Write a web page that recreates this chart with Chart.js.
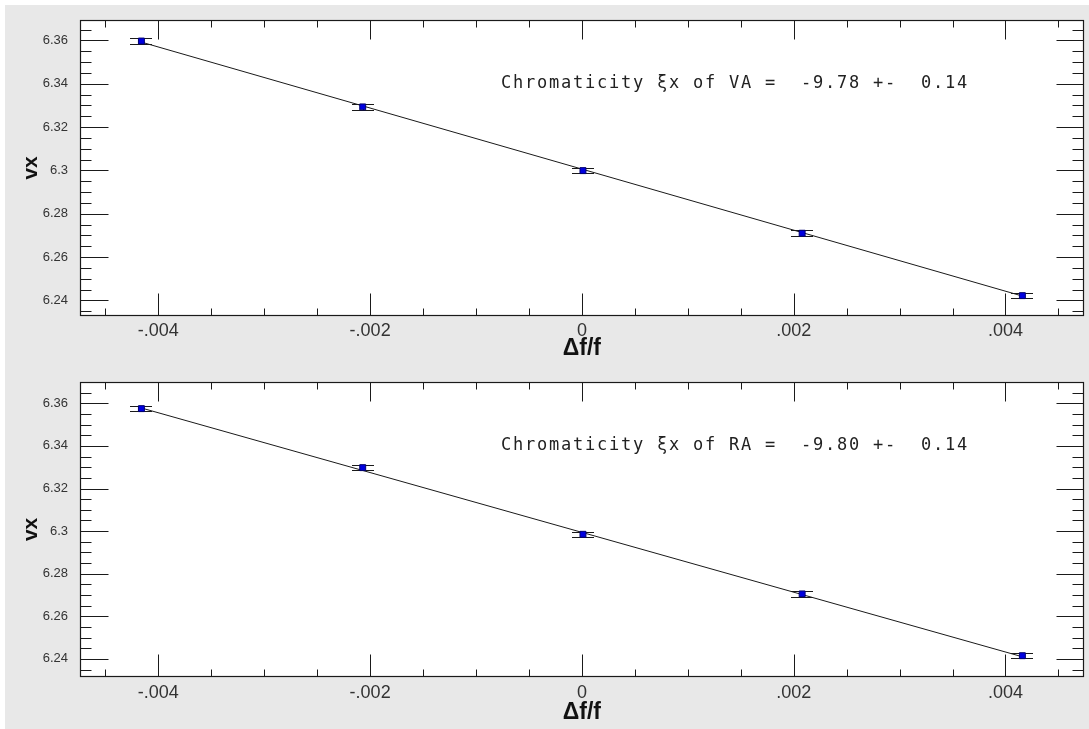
<!DOCTYPE html>
<html><head><meta charset="utf-8">
<script src="https://cdn.jsdelivr.net/npm/chart.js@4/dist/chart.umd.min.js"></script>
<style>
html,body{margin:0;padding:0;background:#fff;width:1089px;height:729px;overflow:hidden}
#bg{position:absolute;left:5px;top:5px;width:1084px;height:724px;background:#e8e8e8}
canvas{position:absolute;left:0}
</style></head><body>
<div id="bg"></div>
<canvas id="c1" width="1089" height="362" style="top:0"></canvas>
<canvas id="c2" width="1089" height="367" style="top:362px"></canvas>
<script>
// ---- data ----
const deltaF = [-0.00416, -0.00207, 0.00001, 0.00208, 0.00416];
const vxVA = [6.3597, 6.3293, 6.2999, 6.2710, 6.2422];
const errVA = [0.0013, 0.0013, 0.0013, 0.0013, 0.0013];
const fitXVA = [-0.00416, 0.00416];
const fitYVA = [6.3592, 6.2420];
const vxRA = [6.3575, 6.3298, 6.2985, 6.2705, 6.2415];
const errRA = [0.0013, 0.0013, 0.0013, 0.0013, 0.0013];
const fitXRA = [-0.00416, 0.00416];
const fitYRA = [6.3578, 6.2410];
const xTickValues = [-0.004, -0.002, 0, 0.002, 0.004];
const xTickLabels = ['-.004', '-.002', '0', '.002', '.004'];
const yTickValues = [6.24, 6.26, 6.28, 6.30, 6.32, 6.34, 6.36];
const yTickLabels = ['6.24', '6.26', '6.28', '6.3', '6.32', '6.34', '6.36'];
const noteVA = 'Chromaticity \u03BEx of VA =  -9.78 +-  0.14';
const noteRA = 'Chromaticity \u03BEx of RA =  -9.80 +-  0.14';
const xTitle = '\u0394f/f';
const yTitle = 'vx';

const INK = '#1a1a1a';

const framePlugin = {
  id: 'frame',
  beforeDraw(chart) {
    const {ctx, chartArea: a} = chart;
    ctx.save();
    ctx.fillStyle = '#ffffff';
    ctx.fillRect(a.left, a.top, a.right - a.left, a.bottom - a.top);
    ctx.restore();
  },
  beforeDatasetsDraw(chart, args, opts) {
    const {ctx} = chart;
    const xs = chart.scales.x, ys = chart.scales.y;
    const ds = chart.data.datasets[1].data;
    ctx.save();
    ctx.strokeStyle = INK;
    ctx.lineWidth = 1;
    ds.forEach((p, i) => {
      const px = xs.getPixelForValue(p.x);
      const yt = Math.round(ys.getPixelForValue(p.y + opts.err[i])) + 0.5;
      const yb = Math.round(ys.getPixelForValue(p.y - opts.err[i])) + 0.5;
      ctx.beginPath();
      ctx.moveTo(Math.round(px) + 0.5, yt); ctx.lineTo(Math.round(px) + 0.5, yb);
      ctx.moveTo(Math.round(px - 11), yt); ctx.lineTo(Math.round(px + 11), yt);
      ctx.moveTo(Math.round(px - 11), yb); ctx.lineTo(Math.round(px + 11), yb);
      ctx.stroke();
    });
    ctx.restore();
  },
  afterDraw(chart, args, opts) {
    const {ctx, chartArea: a} = chart;
    const xs = chart.scales.x, ys = chart.scales.y;
    ctx.save();
    ctx.strokeStyle = INK;
    ctx.lineWidth = 1;
    const L = Math.round(a.left) + 0.5, R = Math.round(a.right) - 0.5;
    const T = Math.round(a.top) + 0.5, B = Math.round(a.bottom) - 0.5;
    ctx.beginPath();
    // x ticks (bottom and top, inward)
    const xStep = 0.0005;
    for (let k = Math.ceil(xs.min / xStep); k <= Math.floor(xs.max / xStep); k++) {
      const major = (k % 4 === 0);
      const px = Math.round(xs.getPixelForValue(k * xStep)) + 0.5;
      ctx.moveTo(px, B); ctx.lineTo(px, B - (major ? 22 : 7));
      ctx.moveTo(px, T); ctx.lineTo(px, T + (major ? 19 : 7));
    }
    const yStep = 0.005;
    for (let k = Math.ceil(ys.min / yStep - 1e-6); k <= Math.floor(ys.max / yStep + 1e-6); k++) {
      const major = (k % 4 === 0);
      const py = Math.round(ys.getPixelForValue(k * yStep)) + 0.5;
      ctx.moveTo(L, py); ctx.lineTo(L + (major ? 28 : 11), py);
      ctx.moveTo(R, py); ctx.lineTo(R - (major ? 27 : 11), py);
    }
    ctx.stroke();
    ctx.lineWidth = 1.2;
    ctx.strokeRect(L, T, R - L, B - T);
    // annotation (monospaced cells)
    ctx.fillStyle = '#222';
    ctx.font = "17px 'DejaVu Sans Mono', 'Liberation Mono', monospace";
    ctx.textBaseline = 'middle';
    ctx.textAlign = 'center';
    const chars = Array.from(opts.note);
    const x0 = a.left + 420, y0 = a.top + 64, pitch = 12;
    chars.forEach((c, i) => ctx.fillText(c, x0 + i * pitch + pitch / 2, y0));
    ctx.restore();
  }
};

function makeChart(id, vx, err, fitX, fitY, note, yMin, yMax, xAxisH, xTitlePad, xTickPad) {
  return new Chart(document.getElementById(id), {
    type: 'scatter',
    data: {
      datasets: [
        {
          data: fitX.map((x, i) => ({x, y: fitY[i]})),
          showLine: true, borderColor: INK, borderWidth: 1, pointRadius: 0, fill: false, order: 2
        },
        {
          data: deltaF.map((x, i) => ({x, y: vx[i]})),
          showLine: false, pointStyle: 'rect', pointRadius: 4.2,
          backgroundColor: '#0000e0', borderColor: '#000070', borderWidth: 1, order: 1
        }
      ]
    },
    options: {
      responsive: false, animation: false, devicePixelRatio: 1,
      layout: {padding: {top: 14, right: 3, left: 0, bottom: 0}},
      plugins: {legend: {display: false}, tooltip: {enabled: false}, frame: {err, note}},
      scales: {
        x: {
          type: 'linear', min: -0.00474, max: 0.00474,
          afterBuildTicks: s => { s.ticks = xTickValues.map(v => ({value: v})); },
          afterFit: s => { s.height = xAxisH; },
          grid: {display: false, drawTicks: false}, border: {display: false},
          ticks: {
            autoSkip: false, maxRotation: 0, padding: xTickPad, color: '#333',
            font: {family: "'Liberation Sans', Arial, sans-serif", size: 18},
            callback: (v, i) => xTickLabels[i]
          },
          title: {
            display: true, text: xTitle, color: '#111',
            font: {family: "'Liberation Sans', Arial, sans-serif", size: 23, weight: 'bold', lineHeight: 1.1},
            padding: {top: 0, bottom: xTitlePad}
          }
        },
        y: {
          type: 'linear', min: yMin, max: yMax,
          afterBuildTicks: s => { s.ticks = yTickValues.map(v => ({value: v})); },
          afterFit: s => { s.width = 80; },
          grid: {display: false, drawTicks: false}, border: {display: false},
          ticks: {
            autoSkip: false, padding: 12, color: '#333',
            font: {family: "'Liberation Sans Narrow', 'Liberation Sans', Arial, sans-serif", size: 13},
            callback: (v, i) => yTickLabels[i]
          },
          title: {
            display: true, text: yTitle, color: '#111',
            font: {family: "'Liberation Sans', Arial, sans-serif", size: 21, weight: 'bold', lineHeight: 1.2},
            padding: {top: 18.4, bottom: 0}
          }
        }
      }
    },
    plugins: [framePlugin]
  });
}

makeChart('c1', vxVA, errVA, fitXVA, fitYVA, noteVA, 6.2328, 6.3695, 46, 0.35, 4);
makeChart('c2', vxRA, errRA, fitXRA, fitYRA, noteRA, 6.2315, 6.3701, 52, 3.35, 5);
</script>
</body></html>
